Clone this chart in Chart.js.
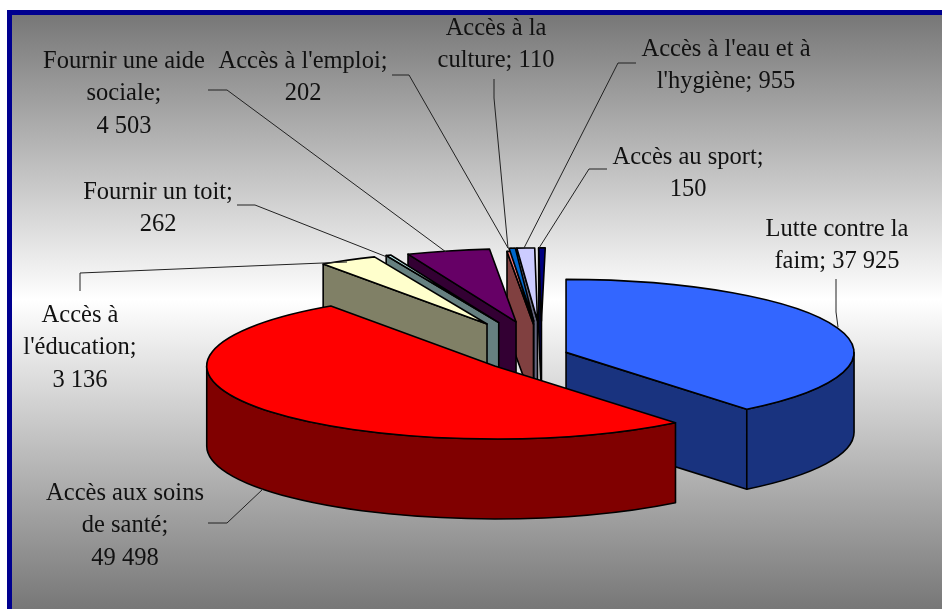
<!DOCTYPE html>
<html lang="fr">
<head>
<meta charset="utf-8">
<title>Répartition par domaine</title>
<style>
  html, body { margin: 0; padding: 0; background: #fff; }
  canvas { display: block; }
</style>
<script src="https://cdn.jsdelivr.net/npm/chart.js@4"></script>
</head>
<body>
<canvas id="pie" width="942" height="610"></canvas>
<script>
// ============================================================
// Data
// ============================================================

const categories = [
  'Lutte contre la faim', 'Accès aux soins de santé', "Accès à l'éducation",
  'Fournir un toit', 'Fournir une aide sociale', "Accès à l'emploi",
  'Accès à la culture', "Accès à l'eau et à l'hygiène", 'Accès au sport'
];
const values = [37925, 49498, 3136, 262, 4503, 202, 110, 955, 150];

// ============================================================
// Styles and layout
// ============================================================

const topColors  = ['#3366FF', '#FF0000', '#FFFFCC', '#CCFFFF', '#660066', '#FF8080', '#0066CC', '#CCCCFF', '#000080'];
const sideColors = ['#19337F', '#800000', '#808066', '#668080', '#330033', '#804040', '#003366', '#666680', '#000040'];

// how far each slice is pulled away from the centre
const explode = [25.5, 59, 114, 113, 110, 100, 110, 110, 110];

const pieRx = 288;
const pieRy = 73;
const pieDepth = 80;
const explodeSquash = 0.31;

// hairline slices get a little extra sweep (degrees before, after) to show their colour
const hairlineSweep = { 6: [0.4, 0.45], 8: [0, 0.75] };

// label centre x, first baseline y, word count where a line ends, leader line
const labelLayout = [
  { x: 837, y: 236, breaks: [3],    leader: [[836, 279], [836, 312], [838, 327]] },
  { x: 125, y: 500, breaks: [3, 5], leader: [[208, 523], [227, 523], [263, 489]] },
  { x: 80,  y: 322, breaks: [2, 3], leader: [[80, 291], [80, 273], [347, 262]] },
  { x: 158, y: 199, breaks: [3],    leader: [[237, 205], [255, 205], [387, 257]] },
  { x: 124, y: 68,  breaks: [3, 4], leader: [[208, 90], [227, 90], [446, 252]] },
  { x: 303, y: 68,  breaks: [3],    leader: [[392, 75], [409, 75], [508, 248]] },
  { x: 496, y: 35,  breaks: [3],    leader: [[494, 79], [494, 98], [508, 248]] },
  { x: 726, y: 56,  breaks: [5],    leader: [[636, 63], [618, 63], [524, 248]] },
  { x: 688, y: 164, breaks: [3],    leader: [[607, 169], [589, 169], [539, 248]] }
];
const lineHeight = 32.3;

function formatValue(v) {
  return String(v).replace(/\B(?=(\d{3})+$)/g, ' ');
}

function labelLines(i) {
  const words = `${categories[i]}; ${formatValue(values[i])}`.split(' ');
  const lines = [];
  let from = 0;
  labelLayout[i].breaks.concat(words.length).forEach(end => {
    lines.push(words.slice(from, end).join(' '));
    from = end;
  });
  return lines;
}

// ============================================================
// Plugins
// ============================================================

const framePlugin = {
  id: 'frame',
  beforeDraw(chart) {
    const ctx = chart.ctx;
    const g = ctx.createLinearGradient(0, 15, 0, 609);
    g.addColorStop(0, '#777777');
    g.addColorStop(0.48, '#FFFFFF');
    g.addColorStop(1, '#777777');
    ctx.save();
    ctx.fillStyle = g;
    ctx.fillRect(12, 15, 930, 594);
    ctx.fillStyle = '#00008F';
    ctx.fillRect(7, 10, 935, 5);
    ctx.fillRect(7, 10, 5, 599);
    ctx.restore();
  }
};

// centre of a slice on screen once it has been pulled out
function sliceOrigin(arc, i) {
  const mid = (arc.startAngle + arc.endAngle) / 2;
  return {
    x: arc.x + Math.cos(mid) * explode[i],
    y: arc.y + Math.sin(mid) * explode[i] * explodeSquash
  };
}

function drawWalls(ctx, arc, i) {
  const o = sliceOrigin(arc, i);
  ctx.fillStyle = sideColors[i];

  const radialWall = angle => {
    const px = o.x + Math.cos(angle) * pieRx;
    const py = o.y + Math.sin(angle) * pieRy;
    ctx.beginPath();
    ctx.moveTo(o.x, o.y);
    ctx.lineTo(px, py);
    ctx.lineTo(px, py + pieDepth);
    ctx.lineTo(o.x, o.y + pieDepth);
    ctx.closePath();
    ctx.fill();
    ctx.stroke();
  };
  if (Math.cos(arc.startAngle) < 0) radialWall(arc.startAngle);
  if (Math.cos(arc.endAngle) > 0) radialWall(arc.endAngle);

  // the rim only shows on the near half of the ellipse
  const from = Math.max(arc.startAngle, 0);
  const to = Math.min(arc.endAngle, Math.PI);
  if (to > from) {
    ctx.beginPath();
    ctx.ellipse(o.x, o.y, pieRx, pieRy, 0, from, to);
    ctx.ellipse(o.x, o.y + pieDepth, pieRx, pieRy, 0, to, from, true);
    ctx.closePath();
    ctx.fill();
    ctx.stroke();
  }
}

function drawTop(ctx, arc, i) {
  const o = sliceOrigin(arc, i);
  const r = arc.outerRadius;
  const extra = hairlineSweep[i] || [0, 0];
  const start = arc.startAngle - extra[0] * Math.PI / 180;
  const end = arc.endAngle + extra[1] * Math.PI / 180;

  ctx.beginPath();
  ctx.moveTo(o.x, o.y);
  ctx.ellipse(o.x, o.y, pieRx, pieRy, 0, start, end);
  ctx.closePath();

  if (hairlineSweep[i]) {
    ctx.fillStyle = topColors[i];
    ctx.fill();
  } else {
    // the library draws the sector, squashed into an ellipse
    ctx.save();
    ctx.translate(o.x, o.y);
    ctx.scale(pieRx / r, pieRy / r);
    ctx.translate(-arc.x, -arc.y);
    arc.draw(ctx);
    ctx.restore();
  }
  ctx.stroke();
}

const pie3dPlugin = {
  id: 'pie3d',
  beforeDatasetsDraw(chart) {
    const ctx = chart.ctx;
    const arcs = chart.getDatasetMeta(0).data;
    ctx.save();
    ctx.strokeStyle = '#000';
    ctx.lineWidth = 1.6;
    ctx.lineJoin = 'round';

    // the four thin back slices: walls first, then the tops above them
    [8, 7, 6, 5].forEach(i => drawWalls(ctx, arcs[i], i));
    [8, 7, 5, 6].forEach(i => drawTop(ctx, arcs[i], i));

    // everything else paints back to front
    [4, 3, 2, 0, 1].forEach(i => {
      drawWalls(ctx, arcs[i], i);
      drawTop(ctx, arcs[i], i);
    });
    ctx.restore();
    return false;
  }
};

const labelPlugin = {
  id: 'sliceLabels',
  afterDraw(chart) {
    const ctx = chart.ctx;
    ctx.save();
    ctx.strokeStyle = '#222';
    ctx.lineWidth = 1;
    labelLayout.forEach(l => {
      ctx.beginPath();
      l.leader.forEach((p, k) => k ? ctx.lineTo(p[0], p[1]) : ctx.moveTo(p[0], p[1]));
      ctx.stroke();
    });

    ctx.fillStyle = '#111';
    ctx.font = "24.5px 'Liberation Serif', 'Times New Roman', serif";
    ctx.textAlign = 'center';
    ctx.textBaseline = 'alphabetic';
    labelLayout.forEach((l, i) => {
      labelLines(i).forEach((line, k) => ctx.fillText(line, l.x, l.y + k * lineHeight));
    });
    ctx.restore();
  }
};

// ============================================================
// Chart
// ============================================================

new Chart(document.getElementById('pie'), {
  type: 'pie',
  data: {
    labels: categories,
    datasets: [{
      data: values,
      backgroundColor: topColors,
      borderWidth: 0
    }]
  },
  options: {
    responsive: false,
    animation: false,
    events: [],
    layout: { padding: { left: 142, right: 0, top: 100, bottom: 0 } },
    plugins: {
      legend: { display: false },
      tooltip: { enabled: false }
    }
  },
  plugins: [framePlugin, pie3dPlugin, labelPlugin]
});
</script>
</body>
</html>
